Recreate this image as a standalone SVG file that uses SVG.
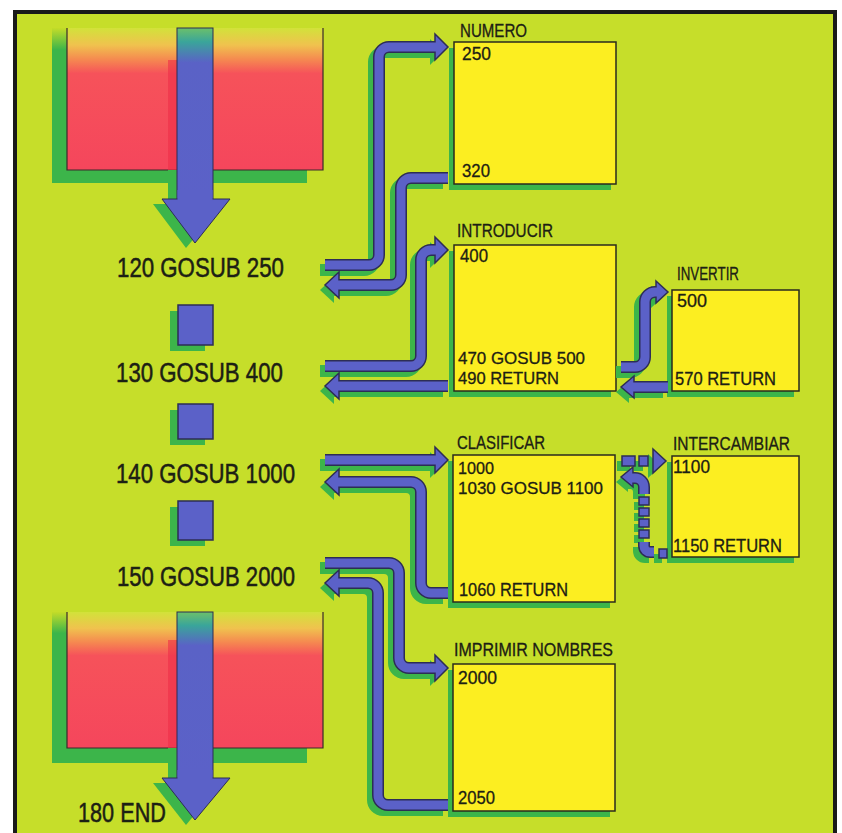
<svg xmlns="http://www.w3.org/2000/svg" xmlns:xlink="http://www.w3.org/1999/xlink" width="842" height="833" viewBox="0 0 842 833">
<defs>
<style>
.t{font-family:"Liberation Sans",Arial,sans-serif;fill:#1c2014;stroke:#1c2014}
.big{font-size:27px;stroke-width:0.5}
.sm{font-size:18px;stroke-width:0.3}
.xs{font-size:17px;stroke-width:0.3}
.box{fill:#fcee21;stroke:#2a2a1e;stroke-width:1.5}
.bsh{fill:#3cb54a}
.sh{fill:none;stroke:#3cb54a;stroke-width:12}
.ol{fill:none;stroke:#2d2d55;stroke-width:12}
.fl{fill:none;stroke:#5b61c8;stroke-width:9}
.hsh{fill:#3cb54a}
.hd{fill:#5b61c8;stroke:#2d2d55;stroke-width:1.5;stroke-linejoin:miter}
.sq{fill:#5b61c8;stroke:#2d2d55;stroke-width:1.5}
</style>
<linearGradient id="redG" x1="0" y1="0" x2="0" y2="1">
<stop offset="0" stop-color="#d2e23a"/>
<stop offset="0.12" stop-color="#f0c24e"/>
<stop offset="0.22" stop-color="#f58a50"/>
<stop offset="0.32" stop-color="#f6525a"/>
<stop offset="1" stop-color="#f5465c"/>
</linearGradient>
<linearGradient id="shG" x1="0" y1="0" x2="0" y2="1">
<stop offset="0" stop-color="#c4dc28"/>
<stop offset="0.14" stop-color="#3cb54a"/>
<stop offset="1" stop-color="#3cb54a"/>
</linearGradient>
<linearGradient id="shaftG" x1="0" y1="0" x2="0" y2="1">
<stop offset="0" stop-color="#6cc06a"/>
<stop offset="0.08" stop-color="#3aa59a"/>
<stop offset="0.2" stop-color="#5a62c6"/>
<stop offset="1" stop-color="#5b61c8"/>
</linearGradient>
<path id="p1" d="M325,265 H369 A10,10 0 0 0 379,255 V57 A10,10 0 0 1 389,47 H437"/>
<path id="h1" d="M435,34 L448,47 L435,60 Z"/>
<path id="p2" d="M448,178 H411 A10,10 0 0 0 401,188 V275 A10,10 0 0 1 391,285 H337"/>
<path id="h2" d="M339,272 L325,285 L339,298 Z"/>
<path id="p3" d="M325,366 H411 A10,10 0 0 0 421,356 V260 A10,10 0 0 1 431,250 H437"/>
<path id="h3" d="M435,237 L448,250 L435,263 Z"/>
<path id="p4" d="M448,386 H337"/>
<path id="h4" d="M339,373 L325,386 L339,399 Z"/>
<path id="p5" d="M621,367 H635 A10,10 0 0 0 645,357 V302 A10,10 0 0 1 655,292 H658"/>
<path id="h5" d="M656,281 L668,292 L656,303 Z"/>
<path id="p6" d="M668,387 H632"/>
<path id="h6" d="M634,376 L621,387 L634,398 Z"/>
<path id="p7" d="M325,460 H437"/>
<path id="h7" d="M435,447 L448,460 L435,473 Z"/>
<path id="p8" d="M448,593 H431 A10,10 0 0 1 421,583 V492 A10,10 0 0 0 411,482 H337"/>
<path id="h8" d="M339,469 L325,482 L339,495 Z"/>
<path id="p11" d="M325,563 H389 A10,10 0 0 1 399,573 V658 A10,10 0 0 0 409,668 H437"/>
<path id="h11" d="M435,655 L448,668 L435,681 Z"/>
<path id="p12" d="M448,805 H388 A10,10 0 0 1 378,795 V593 A10,10 0 0 0 368,583 H337"/>
<path id="h12" d="M339,570 L325,583 L339,596 Z"/>
<path id="d1" d="M622,456 h13 v10 h-13 Z M639,456 h9 v10 h-9 Z"/>
<path id="dh1" d="M653,449 L666,461 L653,473 Z"/>
<path id="d2" d="M659,549 h8 v9 h-8 Z M639,530 h10 v8 h-10 Z M639,519 h10 v8 h-10 Z M639,508 h10 v8 h-10 Z M639,497 h10 v8 h-10 Z"/>
<path id="dc1" d="M654,552 H650 A6,6 0 0 1 644,546 V542"/>
<path id="dc2" d="M644,494 V487 A9,9 0 0 0 635,478 H632"/>
<path id="dh2" d="M633,467 L621,477 L633,487 Z"/>
</defs>

<rect x="0" y="0" width="842" height="833" fill="#ffffff"/>
<rect x="15" y="12" width="820" height="830" fill="#c6de2a" stroke="#1a1a1a" stroke-width="4"/>

<g id="main-top">
<rect x="52" y="28" width="255" height="155" fill="url(#shG)"/>
<rect x="67" y="28" width="256" height="142" fill="url(#redG)"/>
<path d="M67,28 V170 H323 V28" fill="none" stroke="#3a2a2a" stroke-width="1.2"/>
<rect x="168" y="60" width="9" height="110" fill="#ee2f48" opacity="0.6"/>
<path d="M168,170 H177 V200 H168 Z" fill="#3cb54a"/>
<polygon points="153,204 223,204 186,248" fill="#3cb54a"/>
<rect x="177" y="28" width="36" height="173" fill="url(#shaftG)" stroke="#2d2d55" stroke-width="1"/>
<polygon points="162,199 230,199 195,243" fill="#5b61c8" stroke="#2d2d55" stroke-width="1"/>
<rect x="177.5" y="190" width="35" height="11" fill="#5b61c8"/>
<text class="t big" x="117" y="277" textLength="167" lengthAdjust="spacingAndGlyphs">120 GOSUB 250</text>
</g>

<g id="sq1"><rect x="170" y="311" width="35" height="40" class="bsh"/><rect x="178" y="305" width="35" height="40" class="sq"/></g>
<g id="line130"><text class="t big" x="116" y="382" textLength="167" lengthAdjust="spacingAndGlyphs">130 GOSUB 400</text></g>
<g id="sq2"><rect x="170" y="410" width="35" height="35" class="bsh"/><rect x="178" y="404" width="35" height="35" class="sq"/></g>
<g id="line140"><text class="t big" x="116" y="483" textLength="179" lengthAdjust="spacingAndGlyphs">140 GOSUB 1000</text></g>
<g id="sq3"><rect x="170" y="507" width="35" height="39" class="bsh"/><rect x="178" y="501" width="35" height="39" class="sq"/></g>
<g id="line150"><text class="t big" x="117" y="586" textLength="178" lengthAdjust="spacingAndGlyphs">150 GOSUB 2000</text></g>

<g id="main-bottom">
<rect x="52" y="612" width="255" height="151" fill="url(#shG)"/>
<rect x="67" y="612" width="256" height="136" fill="url(#redG)"/>
<path d="M67,612 V748 H323 V612" fill="none" stroke="#3a2a2a" stroke-width="1.2"/>
<rect x="168" y="640" width="9" height="108" fill="#ee2f48" opacity="0.6"/>
<path d="M168,748 H177 V780 H168 Z" fill="#3cb54a"/>
<polygon points="153,783 221,783 186,825" fill="#3cb54a"/>
<rect x="177" y="612" width="36" height="168" fill="url(#shaftG)" stroke="#2d2d55" stroke-width="1"/>
<polygon points="162,778 230,778 195,820" fill="#5b61c8" stroke="#2d2d55" stroke-width="1"/>
<rect x="177.5" y="770" width="35" height="10" fill="#5b61c8"/>
<text class="t big" x="78" y="822" textLength="88" lengthAdjust="spacingAndGlyphs">180 END</text>
</g>

<g id="numero">
<rect x="449" y="48" width="162" height="142" class="bsh"/>
<rect x="454" y="42" width="162" height="142" class="box"/>
<text class="t sm" x="460" y="37" textLength="67" lengthAdjust="spacingAndGlyphs">NUMERO</text>
<text class="t sm" x="462" y="60" textLength="29" lengthAdjust="spacingAndGlyphs">250</text>
<text class="t sm" x="462" y="177" textLength="28" lengthAdjust="spacingAndGlyphs">320</text>
</g>
<g id="introducir">
<rect x="449" y="251" width="162" height="146" class="bsh"/>
<rect x="454" y="245" width="162" height="146" class="box"/>
<text class="t sm" x="457" y="237" textLength="96" lengthAdjust="spacingAndGlyphs">INTRODUCIR</text>
<text class="t sm" x="460" y="262" textLength="28" lengthAdjust="spacingAndGlyphs">400</text>
<text class="t xs" x="458" y="364" textLength="127" lengthAdjust="spacingAndGlyphs">470 GOSUB 500</text>
<text class="t xs" x="458" y="384" textLength="101" lengthAdjust="spacingAndGlyphs">490 RETURN</text>
</g>
<g id="invertir">
<rect x="667" y="296" width="127" height="101" class="bsh"/>
<rect x="672" y="290" width="127" height="101" class="box"/>
<text class="t sm" x="677" y="280" textLength="62" lengthAdjust="spacingAndGlyphs">INVERTIR</text>
<text class="t sm" x="677" y="307" textLength="30" lengthAdjust="spacingAndGlyphs">500</text>
<text class="t sm" x="675" y="385" textLength="101" lengthAdjust="spacingAndGlyphs">570 RETURN</text>
</g>
<g id="clasificar">
<rect x="448" y="461" width="162" height="147" class="bsh"/>
<rect x="453" y="455" width="162" height="147" class="box"/>
<text class="t sm" x="457" y="449" textLength="88" lengthAdjust="spacingAndGlyphs">CLASIFICAR</text>
<text class="t xs" x="458" y="474" textLength="36" lengthAdjust="spacingAndGlyphs">1000</text>
<text class="t xs" x="458" y="494" textLength="145" lengthAdjust="spacingAndGlyphs">1030 GOSUB 1100</text>
<text class="t sm" x="459" y="596" textLength="109" lengthAdjust="spacingAndGlyphs">1060 RETURN</text>
</g>
<g id="intercambiar">
<rect x="667" y="462" width="127" height="101" class="bsh"/>
<rect x="672" y="456" width="127" height="101" class="box"/>
<text class="t sm" x="673" y="450" textLength="117" lengthAdjust="spacingAndGlyphs">INTERCAMBIAR</text>
<text class="t sm" x="673" y="473" textLength="37" lengthAdjust="spacingAndGlyphs">1100</text>
<text class="t sm" x="673" y="552" textLength="109" lengthAdjust="spacingAndGlyphs">1150 RETURN</text>
</g>
<g id="imprimir">
<rect x="448" y="670" width="162" height="147" class="bsh"/>
<rect x="453" y="664" width="162" height="147" class="box"/>
<text class="t sm" x="454" y="656" textLength="159" lengthAdjust="spacingAndGlyphs">IMPRIMIR NOMBRES</text>
<text class="t sm" x="458" y="684" textLength="39" lengthAdjust="spacingAndGlyphs">2000</text>
<text class="t sm" x="458" y="804" textLength="37" lengthAdjust="spacingAndGlyphs">2050</text>
</g>

<g id="connectors">
<g transform="translate(-5,5)">
<use xlink:href="#p1" class="sh"/><use xlink:href="#h1" class="hsh"/>
<use xlink:href="#p2" class="sh"/><use xlink:href="#h2" class="hsh"/>
<use xlink:href="#p3" class="sh"/><use xlink:href="#h3" class="hsh"/>
<use xlink:href="#p4" class="sh"/><use xlink:href="#h4" class="hsh"/>
<use xlink:href="#p5" class="sh"/><use xlink:href="#h5" class="hsh"/>
<use xlink:href="#p6" class="sh"/><use xlink:href="#h6" class="hsh"/>
<use xlink:href="#p7" class="sh"/><use xlink:href="#h7" class="hsh"/>
<use xlink:href="#p8" class="sh"/><use xlink:href="#h8" class="hsh"/>
<use xlink:href="#p11" class="sh"/><use xlink:href="#h11" class="hsh"/>
<use xlink:href="#p12" class="sh"/><use xlink:href="#h12" class="hsh"/>
<use xlink:href="#d1" class="hsh"/><use xlink:href="#dh1" class="hsh"/>
<use xlink:href="#d2" class="hsh"/><use xlink:href="#dc1" class="sh"/>
<use xlink:href="#dc2" class="sh"/><use xlink:href="#dh2" class="hsh"/>
</g>
<g id="c1"><use xlink:href="#p1" class="ol"/><use xlink:href="#h1" class="hd"/><use xlink:href="#p1" class="fl"/></g>
<g id="c2"><use xlink:href="#p2" class="ol"/><use xlink:href="#h2" class="hd"/><use xlink:href="#p2" class="fl"/></g>
<g id="c3"><use xlink:href="#p3" class="ol"/><use xlink:href="#h3" class="hd"/><use xlink:href="#p3" class="fl"/></g>
<g id="c4"><use xlink:href="#p4" class="ol"/><use xlink:href="#h4" class="hd"/><use xlink:href="#p4" class="fl"/></g>
<g id="c5"><use xlink:href="#p5" class="ol"/><use xlink:href="#h5" class="hd"/><use xlink:href="#p5" class="fl"/></g>
<g id="c6"><use xlink:href="#p6" class="ol"/><use xlink:href="#h6" class="hd"/><use xlink:href="#p6" class="fl"/></g>
<g id="c7"><use xlink:href="#p7" class="ol"/><use xlink:href="#h7" class="hd"/><use xlink:href="#p7" class="fl"/></g>
<g id="c8"><use xlink:href="#p8" class="ol"/><use xlink:href="#h8" class="hd"/><use xlink:href="#p8" class="fl"/></g>
<g id="c11"><use xlink:href="#p11" class="ol"/><use xlink:href="#h11" class="hd"/><use xlink:href="#p11" class="fl"/></g>
<g id="c12"><use xlink:href="#p12" class="ol"/><use xlink:href="#h12" class="hd"/><use xlink:href="#p12" class="fl"/></g>
<g id="c9"><use xlink:href="#d1" class="hd"/><use xlink:href="#dh1" class="hd"/></g>
<g id="c10"><use xlink:href="#d2" class="hd"/><use xlink:href="#dc1" class="ol"/><use xlink:href="#dc1" class="fl"/><use xlink:href="#dc2" class="ol"/><use xlink:href="#dh2" class="hd"/><use xlink:href="#dc2" class="fl"/></g>
</g>
</svg>
